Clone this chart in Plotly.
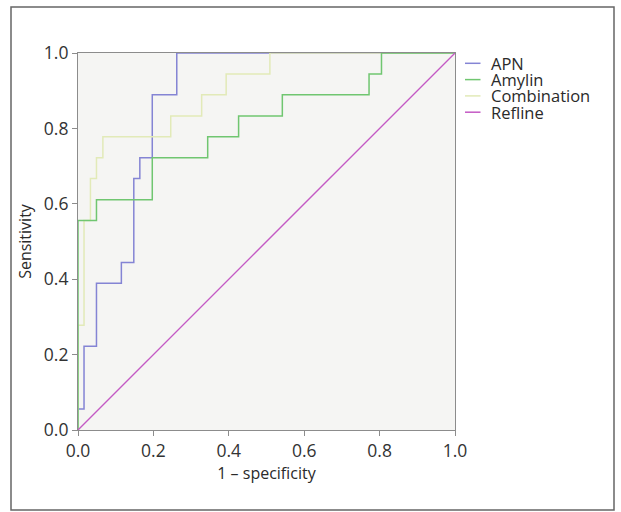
import plotly.graph_objects as go

# ---- data ----
series_names = ["APN", "Amylin", "Combination", "Refline"]
series_colors = ["#8484d4", "#70c670", "#e2eab8", "#c45ac4"]

apn_fpr = [0.0, 0.0, 0.016, 0.049, 0.115, 0.148, 0.164, 0.197, 0.262, 1.0]
apn_tpr = [0.0, 0.056, 0.222, 0.389, 0.444, 0.667, 0.722, 0.889, 1.0, 1.0]

amylin_fpr = [0.0, 0.0, 0.049, 0.197, 0.344, 0.426, 0.542, 0.772, 0.805, 1.0]
amylin_tpr = [0.0, 0.556, 0.611, 0.722, 0.778, 0.833, 0.889, 0.944, 1.0, 1.0]

comb_fpr = [0.0, 0.0, 0.016, 0.033, 0.049, 0.066, 0.246, 0.328, 0.393, 0.509, 1.0]
comb_tpr = [0.0, 0.278, 0.556, 0.667, 0.722, 0.778, 0.833, 0.889, 0.944, 1.0, 1.0]

ref_x = [0.0, 1.0]
ref_y = [0.0, 1.0]

tick_vals = [0.0, 0.2, 0.4, 0.6, 0.8, 1.0]
tick_text = ["0.0", "0.2", "0.4", "0.6", "0.8", "1.0"]

x_title = "1 \u2013 specificity"
y_title = "Sensitivity"

# ---- figure ----
W, H = 621, 512
ML, MR, MT, MB = 78, 166, 53, 82
PW, PH = W - ML - MR, H - MT - MB

FONT = "'Open Sans', Lato, sans-serif"
TXT = "#2a2a2a"

fig = go.Figure()

data = {
    "APN": (apn_fpr, apn_tpr, "hv"),
    "Combination": (comb_fpr, comb_tpr, "hv"),
    "Amylin": (amylin_fpr, amylin_tpr, "hv"),
    "Refline": (ref_x, ref_y, "linear"),
}
color_of = dict(zip(series_names, series_colors))
for name in ["APN", "Combination", "Amylin", "Refline"]:
    xs, ys, shape = data[name]
    fig.add_trace(go.Scatter(
        x=xs, y=ys, mode="lines", name=name,
        line=dict(color=color_of[name], width=1.5 if name != "Refline" else 1.3, shape=shape),
        cliponaxis=False, showlegend=False, hoverinfo="skip",
    ))

axis_common = dict(
    range=[0, 1], tickvals=tick_vals, ticktext=tick_text,
    showgrid=False, zeroline=False,
    showline=True, linecolor="#8c8c8c", linewidth=1.2, mirror=True,
    ticks="outside", ticklen=5, tickcolor="#8c8c8c", tickwidth=1,
    tickfont=dict(family=FONT, size=17.5, color="#333333"),
    layer="below traces", fixedrange=True,
)

fig.update_layout(
    width=W, height=H,
    margin=dict(l=ML, r=MR, t=MT, b=MB),
    paper_bgcolor="white",
    plot_bgcolor="#f5f5f3",
    xaxis=dict(**axis_common,
               title=dict(text=x_title, font=dict(family=FONT, size=16, color=TXT), standoff=6)),
    yaxis=dict(**axis_common,
               title=dict(text=y_title, font=dict(family=FONT, size=16, color=TXT), standoff=8)),
    showlegend=False,
)

# custom compact legend (short line samples + labels)
def px_to_paper_x(px):
    return (px - ML) / PW

def px_to_paper_y(py):
    return (H - MB - py) / PH

leg_top_px = 63.3
leg_step_px = 16.3
for i, name in enumerate(series_names):
    yp = px_to_paper_y(leg_top_px + i * leg_step_px)
    fig.add_shape(type="line", xref="paper", yref="paper",
                  x0=px_to_paper_x(465), x1=px_to_paper_x(480.5), y0=yp, y1=yp,
                  line=dict(color=series_colors[i], width=1.5))
    fig.add_annotation(xref="paper", yref="paper", x=px_to_paper_x(489), y=yp,
                       text=name, showarrow=False, xanchor="left", yanchor="middle",
                       font=dict(family=FONT, size=16.5, color=TXT))

# outer frame around the figure
fig.add_shape(type="rect", xref="paper", yref="paper",
              x0=px_to_paper_x(11), x1=px_to_paper_x(614),
              y0=px_to_paper_y(510), y1=px_to_paper_y(7),
              line=dict(color="#666666", width=1.5), layer="below")

fig.write_html("out.html", config={"displayModeBar": False},
               post_script="document.body.style.margin='0px';")
